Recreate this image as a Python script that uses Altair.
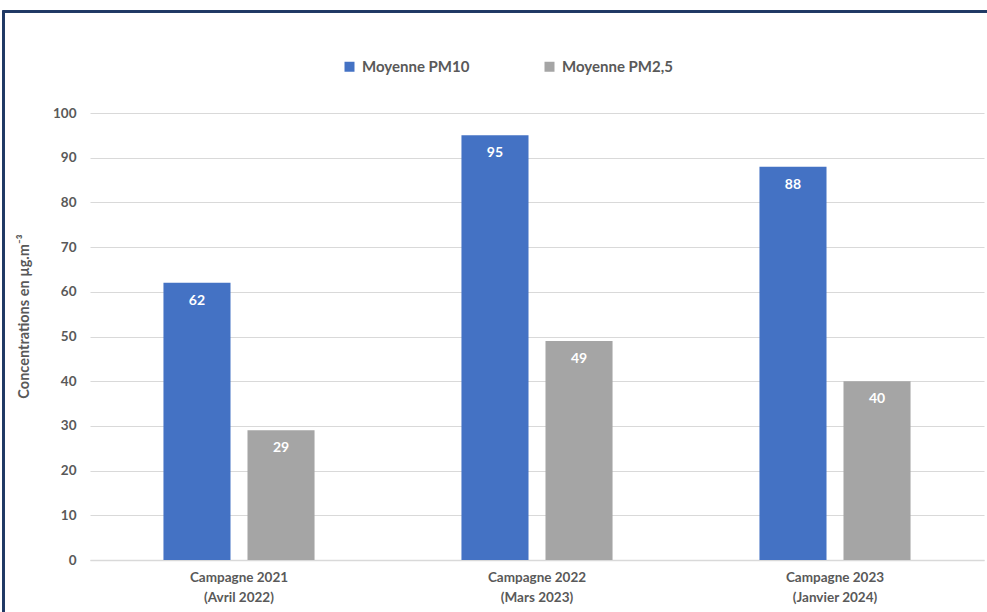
import altair as alt
import pandas as pd

# Campaign categories (two-line axis labels) and mean concentrations
campagnes = ["Campagne 2021\n(Avril 2022)", "Campagne 2022\n(Mars 2023)", "Campagne 2023\n(Janvier 2024)"]
series = ["Moyenne PM10", "Moyenne PM2,5"]
pm10 = [62, 95, 88]
pm25 = [29, 49, 40]
colors = ["#4472C4", "#A5A5A5"]

rows = []
for c, a, b in zip(campagnes, pm10, pm25):
    rows.append({"campagne": c, "serie": series[0], "valeur": a})
    rows.append({"campagne": c, "serie": series[1], "valeur": b})
df = pd.DataFrame(rows)

FONT = "Lato"
GREY_TXT = "#595959"

x_enc = alt.X(
    "campagne:N",
    sort=campagnes,
    scale=alt.Scale(paddingInner=0.493, paddingOuter=0.2465),
    axis=alt.Axis(
        title=None,
        labelAngle=0,
        labelExpr="split(datum.label, '\\n')",
        labelFont=FONT,
        labelFontSize=13.5,
        labelFontWeight="bold",
        labelColor=GREY_TXT,
        labelPadding=10,
        labelLineHeight=20,
        ticks=False,
        domain=True,
        domainColor="#d9d9d9",
        domainWidth=1.5,
    ),
)
xoff_enc = alt.XOffset(
    "serie:N", sort=series, scale=alt.Scale(paddingInner=0.202, paddingOuter=0)
)
y_enc = alt.Y(
    "valeur:Q",
    scale=alt.Scale(domain=[0, 100], nice=False),
    axis=alt.Axis(
        title="Concentrations en µg.m⁻³",
        titleFont=FONT,
        titleFontSize=14.5,
        titleFontWeight="bold",
        titleColor=GREY_TXT,
        titleX=-66,
        titleY=203,
        titleAngle=-90,
        titleAlign="center",
        titleBaseline="middle",
        values=list(range(0, 101, 10)),
        labelFont=FONT,
        labelFontSize=13.5,
        labelFontWeight="bold",
        labelColor=GREY_TXT,
        labelPadding=14,
        ticks=False,
        domain=False,
        grid=True,
        gridColor="#d9d9d9",
        gridWidth=1.2,
    ),
)

bars = alt.Chart(df).mark_bar().encode(
    x=x_enc,
    xOffset=xoff_enc,
    y=y_enc,
    color=alt.Color(
        "serie:N",
        sort=series,
        scale=alt.Scale(domain=series, range=colors),
        legend=alt.Legend(
            title=None,
            orient="none",
            legendX=252,
            legendY=-54,
            direction="horizontal",
            columns=2,
            columnPadding=72,
            symbolType="square",
            symbolSize=100,
            symbolStrokeWidth=0,
            labelFont=FONT,
            labelFontSize=15,
            labelFontWeight="bold",
            labelColor=GREY_TXT,
            labelOffset=5,
        ),
    ),
)

labels = alt.Chart(df).mark_text(
    baseline="top", dy=11, color="white", font=FONT, fontSize=14, fontWeight="bold"
).encode(
    x=alt.X("campagne:N", sort=campagnes),
    xOffset=alt.XOffset("serie:N", sort=series),
    y="valeur:Q",
    text="valeur:Q",
)

# Dark frame along the top and left edges of the figure
frame_top = alt.Chart(df).mark_rule(color="#1F3864", strokeWidth=2).encode(
    x=alt.value(-87), x2=alt.value(900), y=alt.value(-101.5)
)
frame_left = alt.Chart(df).mark_rule(color="#1F3864", strokeWidth=2).encode(
    x=alt.value(-86.5), y=alt.value(-102.5), y2=alt.value(505)
)

chart = (
    alt.layer(bars, labels, frame_top, frame_left)
    .properties(
        width=894,
        height=447,
        autosize=alt.AutoSizeParams(type="none"),
        padding={"left": 90, "top": 113, "right": 3, "bottom": 52},
        background="white",
    )
    .configure_view(stroke=None)
)

chart.save("out.html", embed_options={"renderer": "svg", "actions": False})
